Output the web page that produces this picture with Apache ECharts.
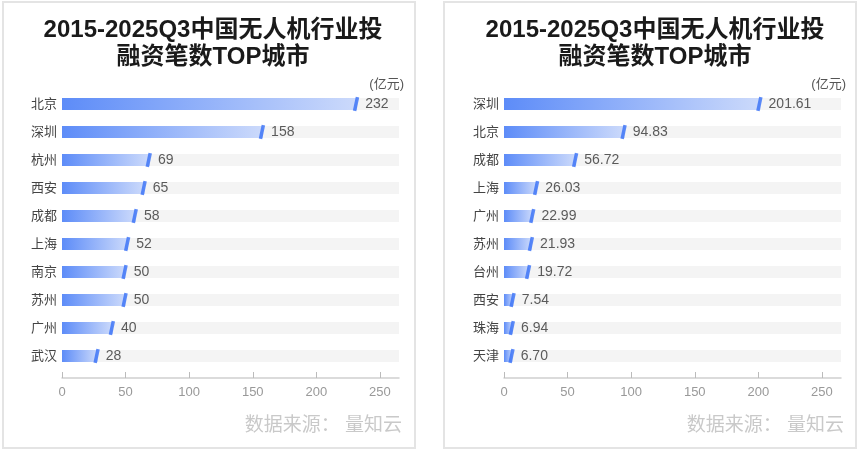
<!DOCTYPE html>
<html>
<head>
<meta charset="utf-8">
<script src="https://cdn.jsdelivr.net/npm/echarts@6/dist/echarts.min.js"></script>
<style>
html,body{margin:0;padding:0;background:#fff;}
#c{width:858px;height:450px;}
</style>
</head>
<body>
<div id="c"></div>
<script>
const titleText = '2015-2025Q3中国无人机行业投\n融资笔数TOP城市';
const unitText = '(亿元)';
const sourceText = '数据来源： 量知云';
const leftCities = ['北京','深圳','杭州','西安','成都','上海','南京','苏州','广州','武汉'];
const leftValues = [232,158,69,65,58,52,50,50,40,28];
const rightCities = ['深圳','北京','成都','上海','广州','苏州','台州','西安','珠海','天津'];
const rightValues = [201.61,94.83,56.72,26.03,22.99,21.93,19.72,7.54,6.94,6.70];
const tickValues = [0,50,100,150,200,250];
const axisMax = 265;

const FONT = '"Liberation Sans","Noto Sans CJK SC",sans-serif';
const chart = echarts.init(document.getElementById('c'), null, {renderer:'canvas'});

const panels = [
  {cities:leftCities, values:leftValues, labels:leftValues.map(v=>String(v)), left:62, cx:208, px:2},
  {cities:rightCities, values:rightValues, labels:rightValues.map(v=>v.toFixed(2)), left:504, cx:650, px:443}
];

const grids=[], xAxes=[], yAxes=[], series=[], titles=[], graphics=[];
panels.forEach((p,i)=>{
  graphics.push({type:'rect', left:p.px, top:1, shape:{width:412, height:446},
    style:{fill:'#fff', stroke:'#e4e4e4', lineWidth:2}, z:-10, silent:true});
  titles.push({text:titleText, left:p.cx, top:12, textAlign:'center',
    textStyle:{fontFamily:FONT, fontSize:24, fontWeight:'bold', color:'#1a1a1a', lineHeight:27}});
  titles.push({text:unitText, left:p.left+337, top:73, textAlign:'right',
    textStyle:{fontFamily:FONT, fontSize:13, fontWeight:'normal', color:'#555'}});
  titles.push({text:sourceText, left:p.left+335, top:411, textAlign:'right',
    textStyle:{fontFamily:FONT, fontSize:19, fontWeight:'normal', color:'#c9c9c9'}});
  grids.push({left:p.left, width:337, top:90, height:280, containLabel:false});
  xAxes.push({type:'value', gridIndex:i, min:0, max:axisMax, offset:8,
    splitLine:{show:false},
    axisLine:{show:true, lineStyle:{color:'#cfcfcf', width:1.5}},
    axisTick:{show:true, inside:true, length:6, customValues:tickValues, lineStyle:{color:'#bbb'}},
    axisLabel:{customValues:tickValues, color:'#999', fontSize:13, fontFamily:FONT, margin:8}});
  yAxes.push({type:'category', gridIndex:i, data:p.cities, inverse:true,
    axisLine:{show:false}, axisTick:{show:false},
    axisLabel:{color:'#444', fontSize:13, fontFamily:FONT, margin:5}});
  series.push({type:'bar', xAxisIndex:i, yAxisIndex:i, data:p.values, barWidth:12,
    showBackground:true, backgroundStyle:{color:'#f4f4f4'},
    itemStyle:{color:new echarts.graphic.LinearGradient(0,0,1,0,[
      {offset:0,color:'#5d8cf8'},{offset:1,color:'#ccdafb'}])},
    z:2});
  series.push({type:'scatter', xAxisIndex:i, yAxisIndex:i,
    data:p.values.map((v,k)=>({value:[v,p.cities[k]], label:{formatter:p.labels[k]}})),
    symbol:'rect', symbolSize:[3.5,14], symbolRotate:-12, symbolOffset:[-1,0],
    itemStyle:{color:'#356ef6'},
    label:{show:true, position:'right', distance:6, color:'#333', fontSize:14, fontFamily:FONT},
    z:5});
});

chart.setOption({
  animation:false,
  backgroundColor:'#fff',
  title:titles,
  grid:grids,
  xAxis:xAxes,
  yAxis:yAxes,
  series:series,
  graphic:graphics
});
</script>
</body>
</html>
